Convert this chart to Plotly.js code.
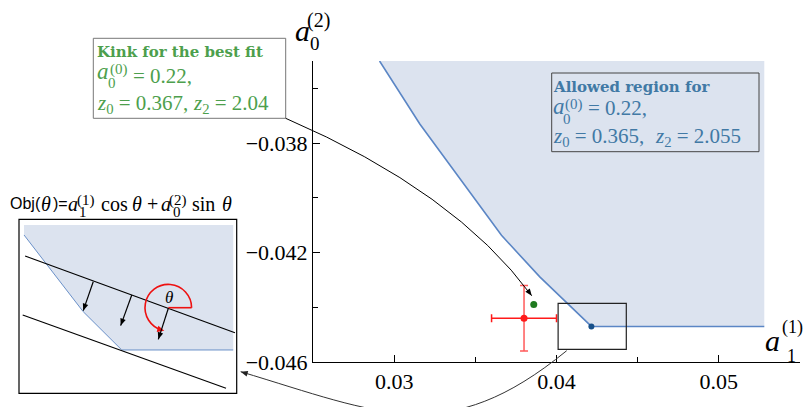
<!DOCTYPE html>
<html>
<head>
<meta charset="utf-8">
<script src="https://cdn.plot.ly/plotly-3.0.1.min.js"></script>
<style>
  html, body { margin: 0; padding: 0; background: #fff; }
  #chart { width: 804px; height: 407px; }
</style>
</head>
<body>
<div id="chart"></div>
<script>
const W = 804;
const H = 407;
const SERIF = 'Liberation Serif, Times New Roman, serif';
const SLAB = 'DejaVu Serif, serif';
const SANS = 'Liberation Sans, Arial, sans-serif';
const GREEN = '#4d9f4d';
const BLUE = '#4179a5';
const FILL = '#dce3ef';
const EDGE = '#5b86c5';
const RED = '#ee1111';

// allowed region boundary, main plot
const boundaryX = [0.0291, 0.03158, 0.03661, 0.03897, 0.04215, 0.0528];
const boundaryY = [-0.035, -0.0373, -0.04137, -0.04289, -0.0447, -0.0447];
const regionTop = -0.035;

const kinkX = [0.04215];
const kinkY = [-0.0447];
const bestFitX = [0.0386];
const bestFitY = [-0.0439];
const dataX = [0.038];
const dataY = [-0.0444];
const dataErrX = [0.002];
const dataErrY = [0.0012];
const zoomBoxX = [0.0401, 0.0443];
const zoomBoxY = [-0.04554, -0.04386];

const xTicks = [0.03, 0.04, 0.05];
const xTickText = ['0.03', '0.04', '0.05'];
const xMinor = [0.035, 0.045];
const yTicks = [-0.046, -0.042, -0.038];
const yTickText = ['\u22120.046', '\u22120.042', '\u22120.038'];
const yMinor = [-0.044, -0.040, -0.036];

// inset: schematic of the kink, unit square
const insetRegionU = [0.023, 0.984, 0.984, 0.472, 0.295, 0.023];
const insetRegionV = [0.967, 0.967, 0.249, 0.249, 0.469, 0.910];
const insetEdgeU = [0.023, 0.295, 0.472, 0.984];
const insetEdgeV = [0.910, 0.469, 0.249, 0.249];
const tangent1U = [0.028, 0.992];
const tangent1V = [0.789, 0.348];
const tangent2U = [0.017, 0.951];
const tangent2V = [0.450, 0.029];
const pushTailU = [0.341, 0.518, 0.686];
const pushTailV = [0.641, 0.565, 0.489];
const pushHeadU = [0.295, 0.467, 0.640];
const pushHeadV = [0.475, 0.389, 0.310];

// inset box in page pixels
const INSET = { left: 19, right: 236.7, top: 219.3, bottom: 393.3 };
const insetPx = (u) => INSET.left + u * (INSET.right - INSET.left);
const insetPy = (v) => INSET.bottom - v * (INSET.bottom - INSET.top);

const px = (x) => x / W;
const py = (y) => 1 - y / H;
const pt = (x, y) => px(x).toFixed(5) + ',' + py(y).toFixed(5);

// x is the left edge of the glyphs (annotation box adds ~2px pad)
function note(x, y, text, size, color = 'black', family = SERIF, anchor = 'left') {
  return {
    xref: 'paper', yref: 'paper', x: px(anchor === 'left' ? x - 2 : x), y: py(y), text: text,
    showarrow: false, xanchor: anchor, yanchor: 'middle',
    font: { family: family, size: size, color: color }
  };
}

// filled arrowhead with tip at (tx, ty) pointing along (dx, dy), page pixels
function arrowHead(tx, ty, dx, dy, color, len = 7, half = 2.8) {
  const n = Math.hypot(dx, dy);
  const ux = dx / n, uy = dy / n;
  const bx = tx - len * ux, by = ty - len * uy;
  return {
    type: 'path', xref: 'paper', yref: 'paper',
    path: 'M' + pt(tx, ty) + ' L' + pt(bx - half * uy, by + half * ux) +
      ' L' + pt(bx + half * uy, by - half * ux) + ' Z',
    fillcolor: color, line: { width: 0 }
  };
}

// circular arc as cubic pieces, angles in degrees, screen y down
function arcPath(cx, cy, r, a0, a1) {
  const n = Math.ceil(Math.abs(a1 - a0) / 90);
  const step = (a1 - a0) / n * Math.PI / 180;
  let d = '';
  for (let i = 0; i < n; i++) {
    const t0 = a0 * Math.PI / 180 + i * step;
    const t1 = t0 + step;
    const k = 4 / 3 * Math.tan(step / 4);
    const x0 = cx + r * Math.cos(t0), y0 = cy - r * Math.sin(t0);
    const x3 = cx + r * Math.cos(t1), y3 = cy - r * Math.sin(t1);
    const x1 = x0 - k * r * Math.sin(t0), y1 = y0 - k * r * Math.cos(t0);
    const x2 = x3 + k * r * Math.sin(t1), y2 = y3 + k * r * Math.cos(t1);
    if (i === 0) d += 'M' + pt(x0, y0);
    d += ' C' + pt(x1, y1) + ' ' + pt(x2, y2) + ' ' + pt(x3, y3);
  }
  return d;
}

const last = boundaryX.length - 1;

const traces = [
  {
    x: boundaryX.concat([boundaryX[last], boundaryX[0]]),
    y: boundaryY.concat([regionTop, regionTop]),
    mode: 'none', fill: 'toself', fillcolor: FILL, hoverinfo: 'skip'
  },
  {
    x: boundaryX, y: boundaryY, mode: 'lines',
    line: { color: EDGE, width: 1.6 }, hoverinfo: 'skip'
  },
  {
    x: kinkX, y: kinkY, mode: 'markers',
    marker: { color: '#17508a', size: 6 }
  },
  {
    x: dataX, y: dataY, mode: 'markers',
    marker: { color: '#ff1a1a', size: 7 },
    error_x: { type: 'data', array: dataErrX, color: '#ff1a1a', thickness: 1.5, width: 4 },
    error_y: { type: 'data', array: dataErrY, color: '#ff5a5a', thickness: 1.5, width: 4 }
  },
  {
    x: bestFitX, y: bestFitY, mode: 'markers',
    marker: { color: '#1f7a1f', size: 7 }
  },
  // inset
  {
    x: insetRegionU, y: insetRegionV, xaxis: 'x2', yaxis: 'y2',
    mode: 'none', fill: 'toself', fillcolor: FILL, hoverinfo: 'skip'
  },
  {
    x: insetEdgeU, y: insetEdgeV, xaxis: 'x2', yaxis: 'y2', mode: 'lines',
    line: { color: '#6a90c8', width: 1 }
  },
  {
    x: tangent1U, y: tangent1V, xaxis: 'x2', yaxis: 'y2', mode: 'lines',
    line: { color: 'black', width: 1.2 }
  },
  {
    x: tangent2U, y: tangent2V, xaxis: 'x2', yaxis: 'y2', mode: 'lines',
    line: { color: 'black', width: 1.2 }
  }
];

const arcEnd = 255 * Math.PI / 180;
const arcCx = 168.3, arcCy = 307.7, arcR = 23.3;

const shapes = [
  {
    type: 'rect', xref: 'x', yref: 'y',
    x0: zoomBoxX[0], x1: zoomBoxX[1], y0: zoomBoxY[0], y1: zoomBoxY[1],
    line: { color: '#222', width: 1.2 }
  },
  {
    type: 'rect', xref: 'paper', yref: 'paper',
    x0: px(93.3), x1: px(285.7), y0: py(118.3), y1: py(38.3),
    line: { color: '#777', width: 1 }, fillcolor: 'white'
  },
  {
    type: 'rect', xref: 'paper', yref: 'paper',
    x0: px(551.7), x1: px(759), y0: py(151.7), y1: py(73),
    line: { color: '#444', width: 1 }
  },
  {
    type: 'rect', xref: 'paper', yref: 'paper',
    x0: px(INSET.left), x1: px(INSET.right), y0: py(INSET.bottom), y1: py(INSET.top),
    line: { color: 'black', width: 1.2 }
  },
  // connector from the best-fit box to the green point
  {
    type: 'path', xref: 'paper', yref: 'paper',
    path: 'M' + pt(285.7, 118.3) + ' Q' + pt(455.5, 191.6) + ' ' + pt(531.7, 295.7),
    line: { color: 'black', width: 1 }
  },
  arrowHead(531.7, 295.7, 76.2, 104.1, 'black'),
  // connector from the zoom box to the inset
  {
    type: 'path', xref: 'paper', yref: 'paper',
    path: 'M' + pt(566.7, 350.7) + ' C' + pt(446.7, 448.7) + ' ' + pt(380.7, 413.7) + ' ' + pt(240.7, 371.7),
    line: { color: '#333', width: 1 }
  },
  arrowHead(240.7, 371.7, -140, -42, '#222'),
  // theta arc
  {
    type: 'path', xref: 'paper', yref: 'paper',
    path: arcPath(arcCx, arcCy, arcR, 0, 255),
    line: { color: RED, width: 1.6 }
  },
  arrowHead(arcCx + arcR * Math.cos(arcEnd) + 2, arcCy - arcR * Math.sin(arcEnd) + 0.5,
    -Math.sin(arcEnd), -Math.cos(arcEnd), RED, 7, 3.2),
  {
    type: 'line', xref: 'paper', yref: 'paper',
    x0: px(arcCx), x1: px(arcCx + arcR), y0: py(arcCy), y1: py(arcCy),
    line: { color: RED, width: 1.6 }
  }
];

// push arrows in the inset
pushHeadU.forEach((u, i) => {
  shapes.push({
    type: 'line', xref: 'x2', yref: 'y2',
    x0: pushTailU[i], y0: pushTailV[i], x1: u, y1: pushHeadV[i],
    line: { color: 'black', width: 1.2 }
  });
  const hx = insetPx(u), hy = insetPy(pushHeadV[i]);
  shapes.push(arrowHead(hx, hy, hx - insetPx(pushTailU[i]), hy - insetPy(pushTailV[i]), 'black', 7, 2.8));
});

const annotations = [
  // axis labels
  note(295, 30, '<i>a</i>', 30),
  note(307, 20.5, '(2)', 20),
  note(310, 43.5, '0', 19),
  note(765, 340, '<i>a</i>', 30),
  note(782, 327, '(1)', 18),
  note(787, 356, '1', 18),
  // best-fit box
  note(96.7, 52.5, '<b>Kink for the best fit</b>', 15, GREEN, SLAB),
  note(96.7, 71.7, '<i>a</i>', 23, GREEN),
  note(110, 69.5, '(0)', 15, GREEN),
  note(108.3, 82.5, '0', 15, GREEN),
  note(132.7, 75.8, '= 0.22,', 21, GREEN),
  note(96.7, 104.2, '<i>z</i><sub>0</sub> = 0.367,', 21, GREEN),
  note(193.3, 104.2, '<i>z</i><sub>2</sub> = 2.04', 21, GREEN),
  // allowed region box
  note(553.3, 87.5, '<b>Allowed region for</b>', 15, BLUE, SLAB),
  note(553.3, 106.5, '<i>a</i>', 23, BLUE),
  note(565, 104, '(0)', 15, BLUE),
  note(562.7, 119, '0', 15, BLUE),
  note(588.3, 108.3, '= 0.22,', 21, BLUE),
  note(553.3, 136.7, '<i>z</i><sub>0</sub> = 0.365,', 21, BLUE),
  note(655, 136.7, '<i>z</i><sub>2</sub> = 2.055', 21, BLUE),
  // inset title
  note(10, 203.5, 'Obj(', 16, 'black', SANS),
  note(41, 203.5, '<i>θ</i>', 20),
  note(53, 203.5, ')=', 16, 'black', SANS),
  note(68.3, 203.5, '<i>a</i>', 20),
  note(76.7, 200.5, '(1)', 15),
  note(78.5, 211.5, '1', 15),
  note(100.7, 203.5, 'cos', 20),
  note(131.5, 203.5, '<i>θ</i>', 20),
  note(147, 203.5, '+', 20),
  note(161, 203.5, '<i>a</i>', 20),
  note(169.3, 200.5, '(2)', 15),
  note(172.5, 211.5, '0', 15),
  note(191.7, 203.5, 'sin', 20),
  note(221.7, 203.5, '<i>θ</i>', 20),
  note(169, 297, '<i>θ</i>', 17, 'black', SERIF, 'center')
];

const tickFont = { family: SERIF, size: 22, color: 'black' };

const layout = {
  width: W,
  height: H,
  margin: { l: 0, r: 0, t: 0, b: 0 },
  paper_bgcolor: 'white',
  plot_bgcolor: 'white',
  showlegend: false,
  xaxis: {
    domain: [px(313), px(800)], range: [0.025, 0.055], anchor: 'y',
    tickmode: 'array', tickvals: xTicks, ticktext: xTickText,
    ticks: 'inside', ticklen: 7, tickcolor: 'black', tickfont: tickFont,
    minor: { tickmode: 'array', tickvals: xMinor, ticks: 'inside', ticklen: 5, tickcolor: 'black' },
    showline: true, linecolor: 'black', linewidth: 1,
    showgrid: false, zeroline: false, fixedrange: true
  },
  yaxis: {
    domain: [py(362), py(61)], range: [-0.046, -0.035], anchor: 'x',
    tickmode: 'array', tickvals: yTicks, ticktext: yTickText,
    ticks: 'inside', ticklen: 7, tickcolor: 'black', tickfont: tickFont,
    minor: { tickmode: 'array', tickvals: yMinor, ticks: 'inside', ticklen: 5, tickcolor: 'black' },
    showline: true, linecolor: 'black', linewidth: 1,
    showgrid: false, zeroline: false, fixedrange: true
  },
  xaxis2: {
    domain: [px(INSET.left), px(INSET.right)], range: [0, 1], anchor: 'y2', visible: false, fixedrange: true
  },
  yaxis2: {
    domain: [py(INSET.bottom), py(INSET.top)], range: [0, 1], anchor: 'x2', visible: false, fixedrange: true
  },
  shapes: shapes,
  annotations: annotations
};

Plotly.newPlot('chart', traces, layout, { displayModeBar: false, staticPlot: true });
</script>
</body>
</html>
